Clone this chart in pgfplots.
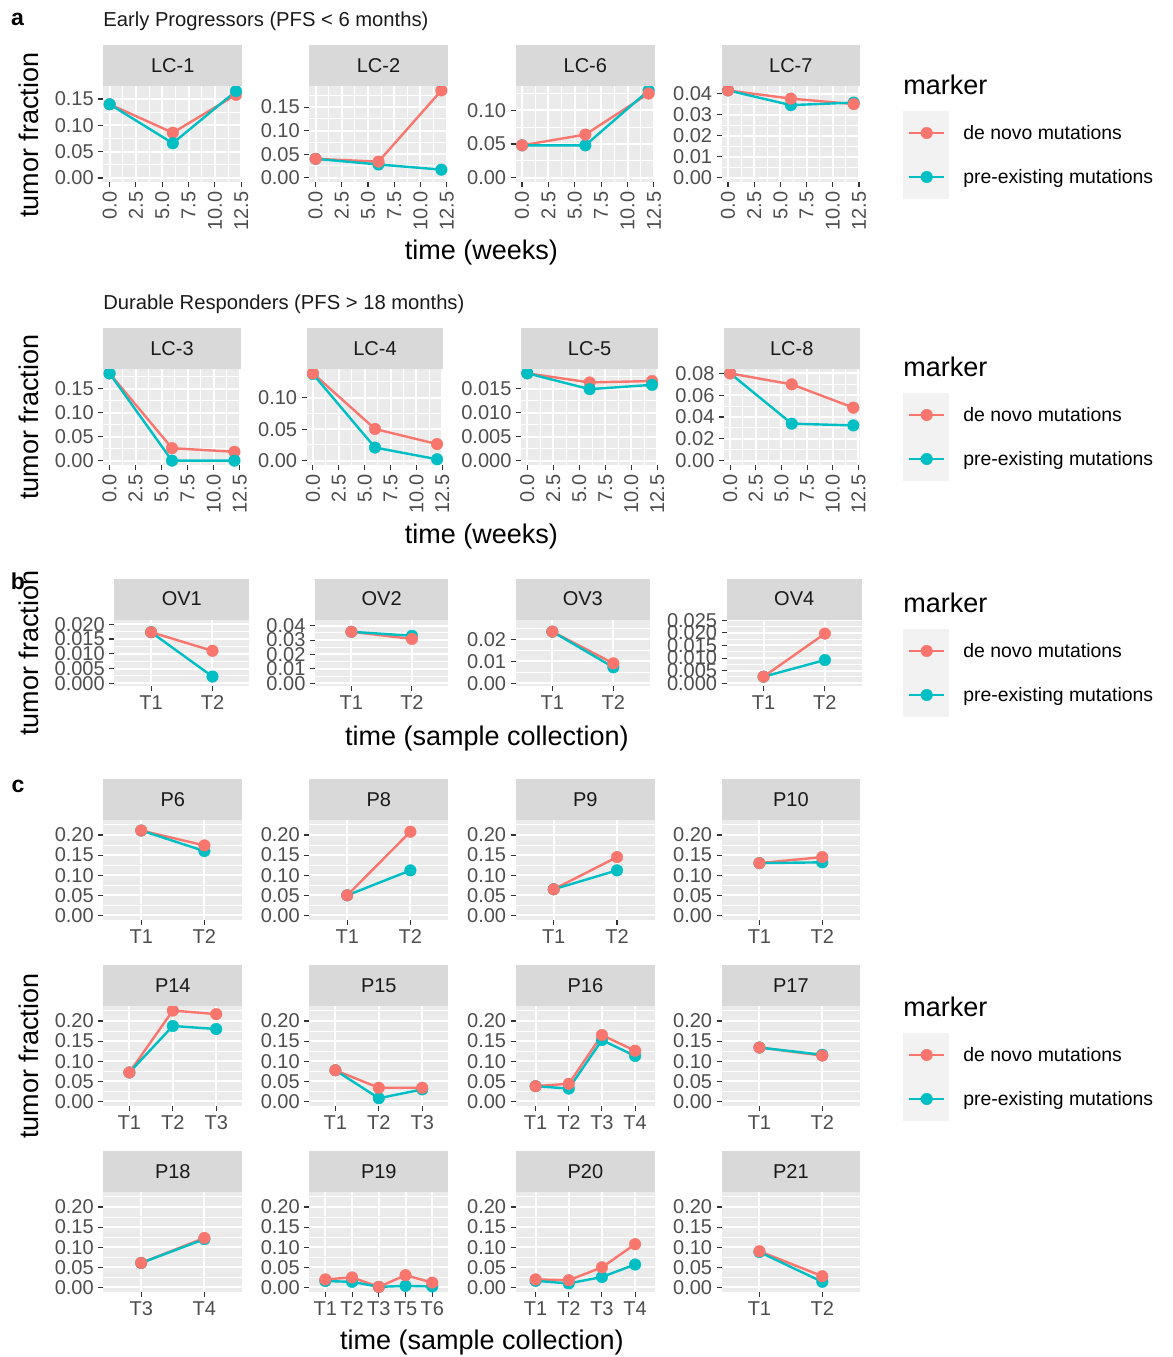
\documentclass[border=0pt]{standalone}
\usepackage{pgfplots}
\pgfplotsset{compat=1.18}
\usepackage{fontspec}
\setmainfont{Liberation Sans}

\definecolor{ggpanel}{HTML}{EBEBEB}
\definecolor{ggstrip}{HTML}{D9D9D9}
\definecolor{ggkey}{HTML}{F2F2F2}
\definecolor{gglab}{HTML}{4D4D4D}
\definecolor{ggtick}{HTML}{333333}
\definecolor{ggdark}{HTML}{1A1A1A}
\definecolor{ggred}{HTML}{F8766D}
\definecolor{ggcyan}{HTML}{00BFC4}

\newcommand\tickfont{\fontsize{10}{12}\selectfont}
\newcommand\axtitlefont{\fontsize{13.5}{16}\selectfont}
\newcommand\legfont{\fontsize{9.7}{11.5}\selectfont}

% panel box in pixel units: left, top, right, bottom
\newcommand\pbox[4]{%
  \pgfmathsetlengthmacro\boxx{#1*0.5pt}%
  \pgfmathsetlengthmacro\boxy{-#2*0.5pt}%
  \pgfmathsetlengthmacro\boxw{(#3-#1)*0.5pt}%
  \pgfmathsetlengthmacro\boxh{(#4-#2)*0.5pt}%
}

% lines first, then points; the second point series ends up on top
\newcommand\duoR[2]{%
  \addplot[lineonly, color=ggred] coordinates {#1};
  \addplot[lineonly, color=ggcyan] coordinates {#2};
  \addplot[ptsonly, color=ggcyan] coordinates {#2};
  \addplot[ptsonly, color=ggred] coordinates {#1};
}
\newcommand\duoC[2]{%
  \addplot[lineonly, color=ggred] coordinates {#1};
  \addplot[lineonly, color=ggcyan] coordinates {#2};
  \addplot[ptsonly, color=ggred] coordinates {#1};
  \addplot[ptsonly, color=ggcyan] coordinates {#2};
}
\newcommand\markerkeys{%
  \addlegendimage{color=ggred, line width=1.2pt, mark=*, mark size=2.9pt, mark options={solid, line width=0.2pt}}
  \addlegendentry{de novo mutations}
  \addlegendimage{color=ggcyan, line width=1.2pt, mark=*, mark size=2.9pt, mark options={solid, line width=0.2pt}}
  \addlegendentry{pre-existing mutations}
}

\pgfplotsset{
  gg/.style={
    at={(\boxx,\boxy)}, anchor=north west,
    width=\boxw, height=\boxh,
    scale only axis,
    axis background/.style={fill=ggpanel},
    axis line style={draw=none},
    tick pos=left,
    tick align=outside,
    major tick length=2.6pt,
    minor tick length=0pt,
    tick style={draw=ggtick, line width=0.55pt},
    grid=both,
    major grid style={draw=white, line width=1pt},
    minor grid style={draw=white, line width=0.5pt},
    ticklabel style={font=\tickfont, text=gglab},
    yticklabel style={inner xsep=2pt, inner ysep=0pt},
    xticklabel style={inner xsep=0pt, inner ysep=2pt},
    scaled ticks=false,
    title style={at={(0.5,1)}, anchor=south, yshift=-6pt, fill=ggstrip,
      minimum width=\boxw, minimum height=20.5pt, inner sep=0pt, outer sep=0pt,
      font=\tickfont, text=ggdark},
  },
  lineonly/.style={no marks, line width=1.2pt},
  ptsonly/.style={only marks, mark=*, mark size=2.9pt, mark options={solid, line width=0.2pt}},
  weeks/.style={xmin=-0.6, xmax=12.6,
    xtick={0,2.5,5,7.5,10,12.5}, xticklabels={0.0,2.5,5.0,7.5,10.0,12.5},
    minor xtick={1.25,3.75,6.25,8.75,11.25},
    xticklabel style={rotate=90, anchor=east, inner xsep=2pt, inner ysep=0pt}},
  cat2/.style={xmin=0.4, xmax=2.6, xtick={1,2}},
  cat3/.style={xmin=0.4, xmax=3.6, xtick={1,2,3}},
  cat4/.style={xmin=0.4, xmax=4.6, xtick={1,2,3,4}},
  cat5/.style={xmin=0.4, xmax=5.6, xtick={1,2,3,4,5}},
  cy/.style={ymin=-0.0113, ymax=0.2371,
    ytick={0,0.05,0.1,0.15,0.2}, yticklabels={0.00,0.05,0.10,0.15,0.20},
    minor ytick={0.025,0.075,0.125,0.175,0.225}},
  keyed/.style 2 args={
    legend style={at={(#1,#2)}, anchor=north west, draw=none, fill=none,
      inner sep=0pt, outer sep=0pt, row sep=0pt, column sep=7pt, font=\legfont,
      nodes={inner sep=0pt, text height=1.55ex, text depth=0.35ex}},
    legend cell align=left,
    legend image code/.code={%
      \fill[ggkey] (0pt,-10.4pt) rectangle (22pt,10.4pt);
      \draw[##1, mark repeat=2, mark phase=2] plot coordinates {(2.5pt,0pt) (11.25pt,0pt) (20pt,0pt)};
    },
  },
}

\begin{document}
\begin{tikzpicture}
\useasboundingbox (0pt,0pt) rectangle (586.5pt,-678.5pt);

% ---------------- a: Early Progressors ----------------
\pbox{103.3}{86}{242.3}{182}
\begin{axis}[gg, weeks, title={LC-1},
  ymin=-0.0076, ymax=0.1747, ytick={0,0.05,0.1,0.15}, yticklabels={0.00,0.05,0.10,0.15},
  minor ytick={0.025,0.075,0.125}]
\duoC{(0,0.140) (6,0.086) (12,0.158)}{(0,0.140) (6,0.066) (12,0.165)}
\end{axis}
\pbox{309.3}{86}{447.7}{182}
\begin{axis}[gg, weeks, title={LC-2},
  ymin=-0.0093, ymax=0.1948, ytick={0,0.05,0.1,0.15}, yticklabels={0.00,0.05,0.10,0.15},
  minor ytick={0.025,0.075,0.125,0.175}]
\duoR{(0,0.040) (6,0.034) (12,0.1855)}{(0,0.040) (6,0.028) (12,0.017)}
\end{axis}
\pbox{515.7}{86}{655}{182}
\begin{axis}[gg, weeks, title={LC-6},
  ymin=-0.0065, ymax=0.1362, ytick={0,0.05,0.1}, yticklabels={0.00,0.05,0.10},
  minor ytick={0.025,0.075,0.125}]
\duoR{(0,0.048) (6,0.064) (12,0.125)}{(0,0.048) (6,0.048) (12,0.1297)}
\end{axis}
\pbox{721.7}{86}{860}{182}
\begin{axis}[gg, weeks, title={LC-7},
  ymin=-0.0021, ymax=0.0436, ytick={0,0.01,0.02,0.03,0.04}, yticklabels={0.00,0.01,0.02,0.03,0.04},
  minor ytick={0.005,0.015,0.025,0.035}, keyed={1.3109}{0.7396}]
\markerkeys
\duoR{(0,0.0415) (6,0.0376) (12,0.0350)}{(0,0.0415) (6,0.0345) (12,0.0357)}
\end{axis}

% ---------------- a: Durable Responders ----------------
\pbox{103.3}{369}{240.7}{465}
\begin{axis}[gg, weeks, title={LC-3},
  ymin=-0.0091, ymax=0.1911, ytick={0,0.05,0.1,0.15}, yticklabels={0.00,0.05,0.10,0.15},
  minor ytick={0.025,0.075,0.125,0.175}]
\duoC{(0,0.182) (6,0.026) (12,0.0185)}{(0,0.182) (6,0.0) (12,0.0)}
\end{axis}
\pbox{306.7}{369}{443.3}{465}
\begin{axis}[gg, weeks, title={LC-4},
  ymin=-0.0069, ymax=0.1454, ytick={0,0.05,0.1}, yticklabels={0.00,0.05,0.10},
  minor ytick={0.025,0.075,0.125}]
\duoR{(0,0.1385) (6,0.0503) (12,0.0263)}{(0,0.1375) (6,0.0208) (12,0.0022)}
\end{axis}
\pbox{521}{369}{658.3}{465}
\begin{axis}[gg, weeks, title={LC-5},
  ymin=-0.00091, ymax=0.0191, ytick={0,0.005,0.01,0.015}, yticklabels={0.000,0.005,0.010,0.015},
  minor ytick={0.0025,0.0075,0.0125,0.0175}]
\duoC{(0,0.0182) (6,0.0163) (12,0.0166)}{(0,0.0182) (6,0.0149) (12,0.0158)}
\end{axis}
\pbox{724}{369}{859.5}{465}
\begin{axis}[gg, weeks, title={LC-8},
  ymin=-0.004, ymax=0.084, ytick={0,0.02,0.04,0.06,0.08}, yticklabels={0.00,0.02,0.04,0.06,0.08},
  minor ytick={0.01,0.03,0.05,0.07}, keyed={1.321}{0.75}]
\markerkeys
\duoR{(0,0.080) (6,0.0699) (12,0.0486)}{(0,0.080) (6,0.0339) (12,0.0323)}
\end{axis}

% ---------------- b ----------------
\pbox{114.3}{619.5}{249.3}{686}
\begin{axis}[gg, cat2, xticklabels={T1,T2}, title={OV1},
  ymin=-0.0009, ymax=0.0216, ytick={0,0.005,0.01,0.015,0.02}, yticklabels={0.000,0.005,0.010,0.015,0.020},
  minor ytick={0.0025,0.0075,0.0125,0.0175}]
\duoR{(1,0.0173) (2,0.0110)}{(1,0.0173) (2,0.0023)}
\end{axis}
\pbox{315}{619.5}{448.3}{686}
\begin{axis}[gg, cat2, xticklabels={T1,T2}, title={OV2},
  ymin=-0.0019, ymax=0.0443, ytick={0,0.01,0.02,0.03,0.04}, yticklabels={0.00,0.01,0.02,0.03,0.04},
  minor ytick={0.005,0.015,0.025,0.035}]
\duoR{(1,0.0358) (2,0.0308)}{(1,0.0358) (2,0.0330)}
\end{axis}
\pbox{515.7}{619.5}{650}{686}
\begin{axis}[gg, cat2, xticklabels={T1,T2}, title={OV3},
  ymin=-0.0012, ymax=0.029, ytick={0,0.01,0.02}, yticklabels={0.00,0.01,0.02},
  minor ytick={0.005,0.015,0.025}]
\duoR{(1,0.0235) (2,0.0091)}{(1,0.0235) (2,0.0073)}
\end{axis}
\pbox{726.7}{619.5}{861.7}{686}
\begin{axis}[gg, cat2, xticklabels={T1,T2}, title={OV4},
  ymin=-0.0011, ymax=0.0253, ytick={0,0.005,0.01,0.015,0.02,0.025},
  yticklabels={0.000,0.005,0.010,0.015,0.020,0.025},
  minor ytick={0.0025,0.0075,0.0125,0.0175,0.0225}, keyed={1.3059}{0.857}]
\markerkeys
\duoR{(1,0.0026) (2,0.0197)}{(1,0.0026) (2,0.0092)}
\end{axis}

% ---------------- c ----------------
\pbox{103.3}{820}{242.3}{920}
\begin{axis}[gg, cy, cat2, xticklabels={T1,T2}, title={P6}]
\duoR{(1,0.211) (2,0.174)}{(1,0.211) (2,0.160)}
\end{axis}
\pbox{309.3}{820}{448.3}{920}
\begin{axis}[gg, cy, cat2, xticklabels={T1,T2}, title={P8}]
\duoR{(1,0.050) (2,0.208)}{(1,0.050) (2,0.112)}
\end{axis}
\pbox{515.7}{820}{655}{920}
\begin{axis}[gg, cy, cat2, xticklabels={T1,T2}, title={P9}]
\duoR{(1,0.065) (2,0.145)}{(1,0.065) (2,0.112)}
\end{axis}
\pbox{721.7}{820}{860}{920}
\begin{axis}[gg, cy, cat2, xticklabels={T1,T2}, title={P10}]
\duoR{(1,0.130) (2,0.145)}{(1,0.130) (2,0.132)}
\end{axis}

\pbox{103.3}{1006}{242.3}{1106}
\begin{axis}[gg, cy, cat3, xticklabels={T1,T2,T3}, title={P14}]
\duoR{(1,0.072) (2,0.2258) (3,0.217)}{(1,0.072) (2,0.1875) (3,0.180)}
\end{axis}
\pbox{309.3}{1006}{448.3}{1106}
\begin{axis}[gg, cy, cat3, xticklabels={T1,T2,T3}, title={P15}]
\duoR{(1,0.0775) (2,0.034) (3,0.034)}{(1,0.0775) (2,0.008) (3,0.030)}
\end{axis}
\pbox{515.7}{1006}{655}{1106}
\begin{axis}[gg, cy, cat4, xticklabels={T1,T2,T3,T4}, title={P16}]
\duoR{(1,0.038) (2,0.044) (3,0.165) (4,0.126)}{(1,0.038) (2,0.032) (3,0.1525) (4,0.113)}
\end{axis}
\pbox{721.7}{1006}{860}{1106}
\begin{axis}[gg, cy, cat2, xticklabels={T1,T2}, title={P17}, keyed={1.3109}{0.73}]
\markerkeys
\duoR{(1,0.134) (2,0.114)}{(1,0.134) (2,0.116)}
\end{axis}

\pbox{103.3}{1192}{242.3}{1292}
\begin{axis}[gg, cy, cat2, xticklabels={T3,T4}, title={P18}]
\duoR{(1,0.061) (2,0.123)}{(1,0.061) (2,0.120)}
\end{axis}
\pbox{309.3}{1192}{448.3}{1292}
\begin{axis}[gg, cy, cat5, xticklabels={T1,T2,T3,T5,T6}, title={P19}]
\duoR{(1,0.020) (2,0.025) (3,0.0015) (4,0.0305) (5,0.012)}{(1,0.016) (2,0.014) (3,0.0015) (4,0.004) (5,0.0025)}
\end{axis}
\pbox{515.7}{1192}{655}{1292}
\begin{axis}[gg, cy, cat4, xticklabels={T1,T2,T3,T4}, title={P20}]
\duoR{(1,0.020) (2,0.018) (3,0.050) (4,0.1075)}{(1,0.0165) (2,0.010) (3,0.026) (4,0.057)}
\end{axis}
\pbox{721.7}{1192}{860}{1292}
\begin{axis}[gg, cy, cat2, xticklabels={T1,T2}, title={P21}]
\duoR{(1,0.090) (2,0.028)}{(1,0.088) (2,0.014)}
\end{axis}

% ---------------- titles and labels ----------------
\begin{scope}[x=0.5pt, y=-0.5pt]
  \node[inner sep=0pt, font=\fontsize{11.5}{13}\selectfont\bfseries] at (17.5,19) {a};
  \node[inner sep=0pt, font=\fontsize{11.5}{13}\selectfont\bfseries] at (18,581) {b};
  \node[inner sep=0pt, font=\fontsize{11.5}{13}\selectfont\bfseries] at (18,786) {c};

  \node[anchor=west, inner sep=0pt, font=\fontsize{10.1}{12}\selectfont, text=ggdark] at (103,21.5) {Early Progressors (PFS < 6 months)};
  \node[anchor=west, inner sep=0pt, font=\fontsize{10.1}{12}\selectfont, text=ggdark] at (103,304) {Durable Responders (PFS > 18 months)};

  \node[rotate=90, inner sep=0pt, font=\axtitlefont] at (29,135) {tumor fraction};
  \node[rotate=90, inner sep=0pt, font=\axtitlefont] at (29,417) {tumor fraction};
  \node[rotate=90, inner sep=0pt, font=\axtitlefont] at (29,653) {tumor fraction};
  \node[rotate=90, inner sep=0pt, font=\axtitlefont] at (29,1056) {tumor fraction};

  \node[inner sep=0pt, font=\axtitlefont] at (481.5,253) {time (weeks)};
  \node[inner sep=0pt, font=\axtitlefont] at (481.5,536) {time (weeks)};
  \node[inner sep=0pt, font=\axtitlefont] at (487,739) {time (sample collection)};
  \node[inner sep=0pt, font=\axtitlefont] at (482,1343) {time (sample collection)};

  \node[anchor=west, inner sep=0pt, font=\axtitlefont] at (903,85) {marker};
  \node[anchor=west, inner sep=0pt, font=\axtitlefont] at (903,367) {marker};
  \node[anchor=west, inner sep=0pt, font=\axtitlefont] at (903,603) {marker};
  \node[anchor=west, inner sep=0pt, font=\axtitlefont] at (903,1007) {marker};
\end{scope}
\end{tikzpicture}
\end{document}
